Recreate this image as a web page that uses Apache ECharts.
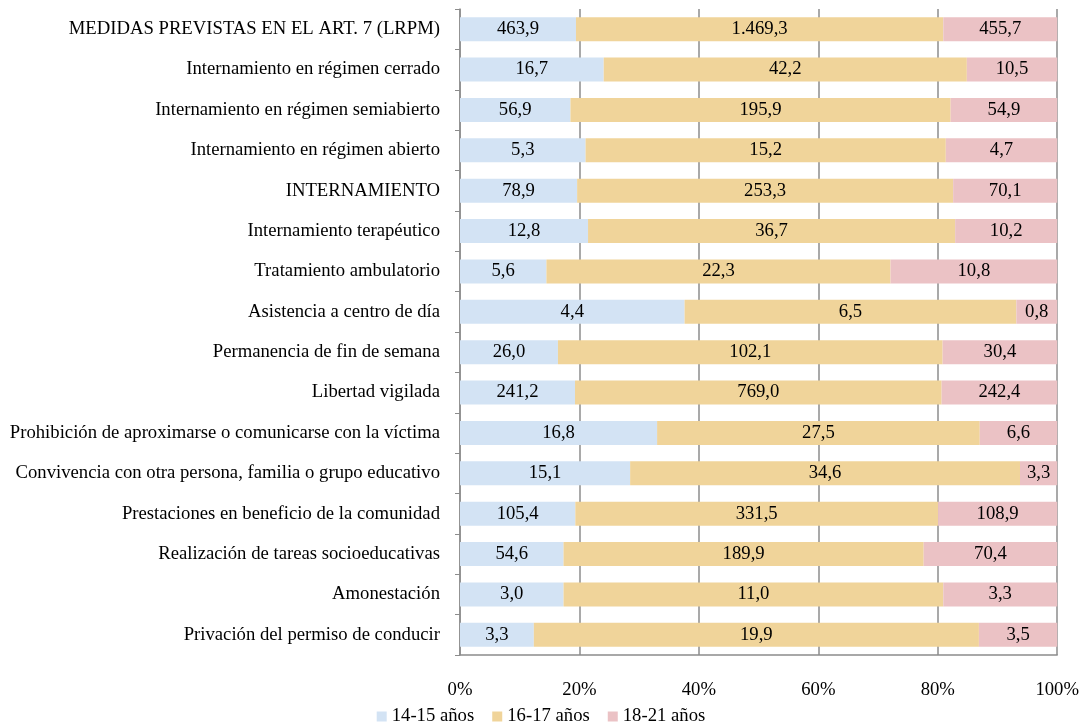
<!DOCTYPE html>
<html lang="es">
<head>
    <meta charset="UTF-8">
    <title>Medidas por edad</title>
    <script src="https://cdn.jsdelivr.net/npm/echarts@6/dist/echarts.min.js"></script>
    <style>
        html, body { margin: 0; padding: 0; background: #fff; }
    </style>
</head>
<body>
    <div id="app" style="width: 1082px;height: 726px;"></div>

    <script>
        const categories = [
            'MEDIDAS PREVISTAS EN EL ART. 7 (LRPM)',
            'Internamiento en régimen cerrado',
            'Internamiento en régimen semiabierto',
            'Internamiento en régimen abierto',
            'INTERNAMIENTO',
            'Internamiento terapéutico',
            'Tratamiento ambulatorio',
            'Asistencia a centro de día',
            'Permanencia de fin de semana',
            'Libertad vigilada',
            'Prohibición de aproximarse o comunicarse con la víctima',
            'Convivencia con otra persona, familia o grupo educativo',
            'Prestaciones en beneficio de la comunidad',
            'Realización de tareas socioeducativas',
            'Amonestación',
            'Privación del permiso de conducir'
        ]

        const edad14_15 = [463.9, 16.7, 56.9, 5.3, 78.9, 12.8, 5.6, 4.4, 26.0, 241.2, 16.8, 15.1, 105.4, 54.6, 3.0, 3.3]
        const edad16_17 = [1469.3, 42.2, 195.9, 15.2, 253.3, 36.7, 22.3, 6.5, 102.1, 769.0, 27.5, 34.6, 331.5, 189.9, 11.0, 19.9]
        const edad18_21 = [455.7, 10.5, 54.9, 4.7, 70.1, 10.2, 10.8, 0.8, 30.4, 242.4, 6.6, 3.3, 108.9, 70.4, 3.3, 3.5]

        const seriesNames = ['14-15 años', '16-17 años', '18-21 años']
        const colors = ['#d3e3f4', '#f0d49a', '#ebc2c5']
        const raw = [edad14_15, edad16_17, edad18_21]

        // 1469.3 -> "1.469,3"
        function label(v) {
            const parts = v.toFixed(1).split('.')
            const ent = parts[0].replace(/\B(?=(\d{3})+(?!\d))/g, '.')
            return ent + ',' + parts[1]
        }

        const totals = categories.map((c, i) => edad14_15[i] + edad16_17[i] + edad18_21[i])

        const font = 'Liberation Serif'
        const fs = 18.7

        var myChart = echarts.init(document.getElementById('app'));

        var option = {
            animation: false,
            textStyle: { fontFamily: font },
            grid: { left: 460, right: 24, top: 9, bottom: 71 },
            legend: {
                data: seriesNames,
                bottom: -5,
                left: 'center',
                itemWidth: 10,
                itemHeight: 10,
                itemGap: 18,
                icon: 'rect',
                textStyle: { fontFamily: font, fontSize: fs, color: '#000' }
            },
            xAxis: {
                type: 'value',
                min: 0,
                max: 100,
                interval: 20,
                z: 0,
                axisLine: { show: true, lineStyle: { color: '#8c8c8c', width: 1.5 } },
                axisTick: { show: false },
                splitLine: { show: true, lineStyle: { color: '#8c8c8c', width: 1.5 } },
                axisLabel: {
                    margin: 26,
                    color: '#000',
                    fontFamily: font,
                    fontSize: fs,
                    formatter: '{value}%'
                }
            },
            yAxis: {
                type: 'category',
                inverse: true,
                data: categories,
                axisLine: { show: true, lineStyle: { color: '#8c8c8c', width: 1.5 } },
                axisTick: { show: true, length: 5, lineStyle: { color: '#8c8c8c' } },
                axisLabel: {
                    margin: 20,
                    color: '#000',
                    fontFamily: font,
                    fontSize: fs
                }
            },
            series: raw.map((arr, s) => ({
                name: seriesNames[s],
                type: 'bar',
                stack: 'total',
                barWidth: 24,
                z: 5,
                itemStyle: { color: colors[s] },
                label: {
                    show: true,
                    position: 'inside',
                    color: '#000',
                    fontFamily: font,
                    fontSize: fs,
                    formatter: p => label(arr[p.dataIndex])
                },
                data: arr.map((v, i) => v / totals[i] * 100)
            }))
        };

        myChart.setOption(option);
    </script>
</body>
</html>
